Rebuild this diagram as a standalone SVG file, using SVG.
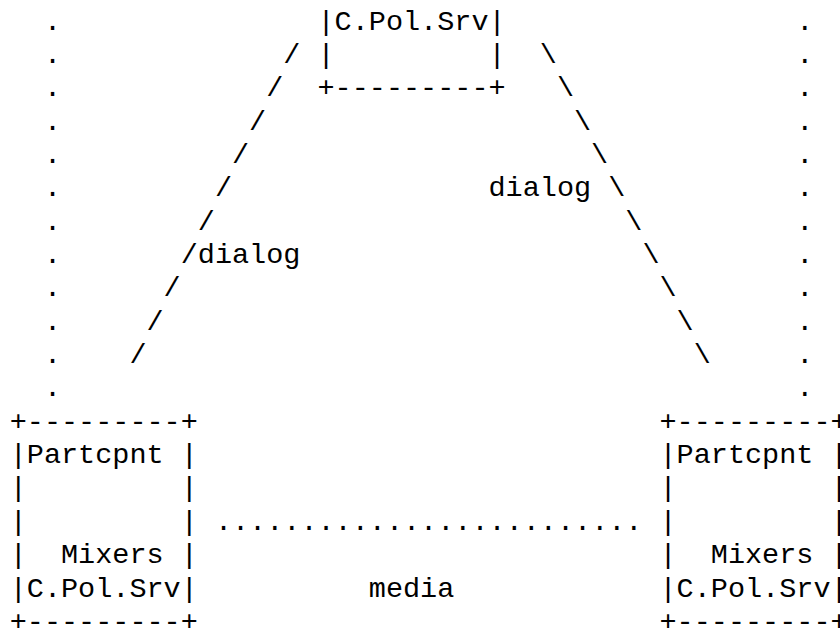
<svg xmlns="http://www.w3.org/2000/svg" width="840" height="630" viewBox="0 0 840 630">
  <style>
    text { font-family: "Liberation Mono", "Courier New", monospace; font-size: 28.5px; fill: #000; white-space: pre; }
  </style>
  <rect width="840" height="630" fill="#fff"/>

  <!-- grid: column width 17.1, column 0 at x=9.7; row pitch 33.35, row 0 baseline 29.5 -->

  <g id="connectors">
    <!-- left dotted column (col 2) -->
    <text id="left-dots" xml:space="preserve"><tspan x="43.9" y="29.5">.</tspan><tspan x="43.9" y="62.9">.</tspan><tspan x="43.9" y="96.2">.</tspan><tspan x="43.9" y="129.6">.</tspan><tspan x="43.9" y="162.9">.</tspan><tspan x="43.9" y="196.3">.</tspan><tspan x="43.9" y="229.6">.</tspan><tspan x="43.9" y="263.0">.</tspan><tspan x="43.9" y="296.3">.</tspan><tspan x="43.9" y="329.7">.</tspan><tspan x="43.9" y="363.0">.</tspan><tspan x="43.9" y="396.4">.</tspan></text>
    <!-- right dotted column (col 46) -->
    <text id="right-dots" xml:space="preserve"><tspan x="796.3" y="29.5">.</tspan><tspan x="796.3" y="62.9">.</tspan><tspan x="796.3" y="96.2">.</tspan><tspan x="796.3" y="129.6">.</tspan><tspan x="796.3" y="162.9">.</tspan><tspan x="796.3" y="196.3">.</tspan><tspan x="796.3" y="229.6">.</tspan><tspan x="796.3" y="263.0">.</tspan><tspan x="796.3" y="296.3">.</tspan><tspan x="796.3" y="329.7">.</tspan><tspan x="796.3" y="363.0">.</tspan><tspan x="796.3" y="396.4">.</tspan></text>
    <!-- dialog link: top server to left participant -->
    <text id="dialog-left-line" xml:space="preserve"><tspan x="283.3" y="62.9">/</tspan><tspan x="266.2" y="96.2">/</tspan><tspan x="249.1" y="129.6">/</tspan><tspan x="232.0" y="162.9">/</tspan><tspan x="214.9" y="196.3">/</tspan><tspan x="197.8" y="229.6">/</tspan><tspan x="180.7" y="263.0">/</tspan><tspan x="163.6" y="296.3">/</tspan><tspan x="146.5" y="329.7">/</tspan><tspan x="129.4" y="363.0">/</tspan></text>
    <!-- dialog link: top server to right participant -->
    <text id="dialog-right-line" xml:space="preserve"><tspan x="539.8" y="62.9">\</tspan><tspan x="556.9" y="96.2">\</tspan><tspan x="574.0" y="129.6">\</tspan><tspan x="591.1" y="162.9">\</tspan><tspan x="608.2" y="196.3">\</tspan><tspan x="625.3" y="229.6">\</tspan><tspan x="642.4" y="263.0">\</tspan><tspan x="659.5" y="296.3">\</tspan><tspan x="676.6" y="329.7">\</tspan><tspan x="693.7" y="363.0">\</tspan></text>
    <!-- media path between participants -->
    <text id="media-line" x="214.9" y="529.8" xml:space="preserve">.........................</text>
  </g>

  <g id="labels">
    <text x="197.8" y="263.0">dialog</text>
    <text x="488.5" y="196.3">dialog</text>
    <text x="368.8" y="596.5">media</text>
  </g>

  <g id="focus-server">
    <text xml:space="preserve"><tspan x="317.5" y="29.5">|C.Pol.Srv|</tspan><tspan x="317.5" y="62.9">|         |</tspan><tspan x="317.5" y="96.2">+---------+</tspan></text>
  </g>

  <g id="participant-left">
    <text xml:space="preserve"><tspan x="9.7" y="429.7">+---------+</tspan><tspan x="9.7" y="463.1">|Partcpnt |</tspan><tspan x="9.7" y="496.4">|         |</tspan><tspan x="9.7" y="529.8">|         |</tspan><tspan x="9.7" y="563.1">|  Mixers |</tspan><tspan x="9.7" y="596.5">|C.Pol.Srv|</tspan><tspan x="9.7" y="629.8">+---------+</tspan></text>
  </g>

  <g id="participant-right">
    <text xml:space="preserve"><tspan x="659.5" y="429.7">+---------+</tspan><tspan x="659.5" y="463.1">|Partcpnt |</tspan><tspan x="659.5" y="496.4">|         |</tspan><tspan x="659.5" y="529.8">|         |</tspan><tspan x="659.5" y="563.1">|  Mixers |</tspan><tspan x="659.5" y="596.5">|C.Pol.Srv|</tspan><tspan x="659.5" y="629.8">+---------+</tspan></text>
  </g>
</svg>
